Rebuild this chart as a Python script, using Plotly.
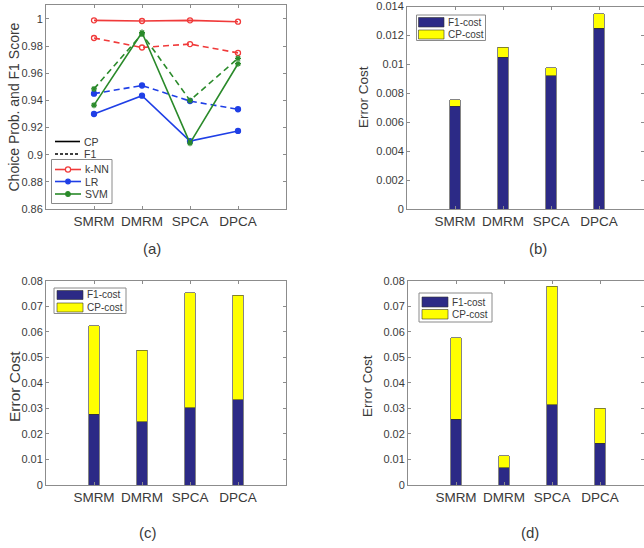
import plotly.graph_objects as go

categories = ["SMRM", "DMRM", "SPCA", "DPCA"]
xpos = [1, 2, 3, 4]

# Panel (a): choice probability (CP) and F1 score
knn_cp = [0.999, 0.9985, 0.999, 0.998]
knn_f1 = [0.986, 0.979, 0.9815, 0.975]
lr_cp = [0.930, 0.9435, 0.910, 0.9175]
lr_f1 = [0.945, 0.951, 0.9395, 0.9335]
svm_cp = [0.9365, 0.990, 0.9085, 0.967]
svm_f1 = [0.9485, 0.989, 0.940, 0.971]

# Panels (b)-(d): stacked error cost
b_f1_cost = [0.0071, 0.0105, 0.0092, 0.0125]
b_cp_cost = [0.00045, 0.0007, 0.00055, 0.0010]
c_f1_cost = [0.0278, 0.0248, 0.0303, 0.0333]
c_cp_cost = [0.0346, 0.0279, 0.0450, 0.0411]
d_f1_cost = [0.0257, 0.0068, 0.0315, 0.0163]
d_cp_cost = [0.0320, 0.0047, 0.0463, 0.0137]

a_ticks = [0.86, 0.88, 0.90, 0.92, 0.94, 0.96, 0.98, 1.0]
a_ticklabels = ["0.86", "0.88", "0.9", "0.92", "0.94", "0.96", "0.98", "1"]
b_ticks = [0, 0.002, 0.004, 0.006, 0.008, 0.010, 0.012, 0.014]
b_ticklabels = ["0", "0.002", "0.004", "0.006", "0.008", "0.01", "0.012", "0.014"]
cd_ticks = [0, 0.01, 0.02, 0.03, 0.04, 0.05, 0.06, 0.07, 0.08]
cd_ticklabels = ["0", "0.01", "0.02", "0.03", "0.04", "0.05", "0.06", "0.07", "0.08"]

W, H = 644, 548
FONT = "Liberation Sans, Arial, sans-serif"
TXT = "#3a3a3a"
AX = "#8c8c8c"
RED = "#f03a3a"
BLUE = "#1f3fe6"
GREEN = "#2a8a2a"
NAVY = "#2c2a86"
YEL = "#ffff00"
EDGE = "#333333"


def px_x(p):
    return p / W


def px_y(p):
    return (H - p) / H


fig = go.Figure()

# ---- panel (a) data ----
series = [
    ("k-NN", knn_cp, knn_f1, RED, "circle-open"),
    ("LR", lr_cp, lr_f1, BLUE, "circle"),
    ("SVM", svm_cp, svm_f1, GREEN, "asterisk-open"),
]
for name, cp, f1, col, sym in series:
    mk = dict(symbol=sym, size=5, color=col, line=dict(color=col, width=1.3))
    fig.add_trace(go.Scatter(x=xpos, y=cp, mode="lines+markers", name=name + " CP",
                             line=dict(color=col, width=1.6), marker=mk,
                             showlegend=False, xaxis="x", yaxis="y"))
    fig.add_trace(go.Scatter(x=xpos, y=f1, mode="lines+markers", name=name + " F1",
                             line=dict(color=col, width=1.6, dash="6px,4px"), marker=mk,
                             showlegend=False, xaxis="x", yaxis="y"))

# ---- bar panels ----
bar_sets = [
    ("x2", "y2", b_f1_cost, b_cp_cost),
    ("x3", "y3", c_f1_cost, c_cp_cost),
    ("x4", "y4", d_f1_cost, d_cp_cost),
]
for xa, ya, f1c, cpc in bar_sets:
    fig.add_trace(go.Bar(x=xpos, y=f1c, name="F1-cost", width=0.21,
                         marker=dict(color=NAVY, line=dict(color=EDGE, width=0.6)),
                         showlegend=False, xaxis=xa, yaxis=ya))
    fig.add_trace(go.Bar(x=xpos, y=cpc, name="CP-cost", width=0.21,
                         marker=dict(color=YEL, line=dict(color=EDGE, width=0.6)),
                         showlegend=False, xaxis=xa, yaxis=ya))


def xaxis_def(dom, rng, anchor):
    return dict(domain=dom, range=rng, anchor=anchor, tickvals=xpos, ticktext=categories,
                showline=True, linecolor=AX, linewidth=1, mirror="ticks",
                ticks="inside", ticklen=3, tickcolor=AX, showgrid=False, zeroline=False,
                tickfont=dict(size=13.5, color=TXT, family=FONT), fixedrange=True)


def yaxis_def(dom, rng, anchor, tv, tt):
    return dict(domain=dom, range=rng, anchor=anchor, tickvals=tv, ticktext=tt,
                showline=True, linecolor=AX, linewidth=1, mirror="ticks",
                ticks="inside", ticklen=3, tickcolor=AX, showgrid=False, zeroline=False,
                tickfont=dict(size=11, color=TXT, family=FONT), fixedrange=True)


top_dom_a = [px_y(209), px_y(5)]
top_dom_b = [px_y(209), px_y(6.5)]
bot_dom = [px_y(485), px_y(280.7)]

fig.update_layout(
    width=W, height=H, margin=dict(l=0, r=0, t=0, b=0, autoexpand=False),
    paper_bgcolor="white", plot_bgcolor="white", barmode="stack", bargap=0,
    font=dict(family=FONT, color=TXT), showlegend=False, hovermode=False,
    xaxis=xaxis_def([px_x(46), px_x(286)], [0, 5], "y"),
    yaxis=yaxis_def(top_dom_a, [0.86, 1.0103], "x", a_ticks, a_ticklabels),
    xaxis2=xaxis_def([px_x(407), 1.0], [0, (644 - 407) / 48], "y2"),
    yaxis2=yaxis_def(top_dom_b, [0, 0.014], "x2", b_ticks, b_ticklabels),
    xaxis3=xaxis_def([px_x(46), px_x(286)], [0, 5], "y3"),
    yaxis3=yaxis_def(bot_dom, [0, 0.08], "x3", cd_ticks, cd_ticklabels),
    xaxis4=xaxis_def([px_x(408), 1.0], [0, (644 - 408) / 48], "y4"),
    yaxis4=yaxis_def(bot_dom, [0, 0.08], "x4", cd_ticks, cd_ticklabels),
)

shapes = []
annotations = []


def add_text(txt, x, y, size, anchor="left", angle=0):
    annotations.append(dict(text=txt, x=px_x(x), y=px_y(y), xref="paper", yref="paper",
                            showarrow=False, textangle=angle,
                            font=dict(size=size, color=TXT, family=FONT),
                            xanchor=anchor, yanchor="middle"))


def add_box(x0, y0, x1, y1):
    shapes.append(dict(type="rect", xref="paper", yref="paper",
                       x0=px_x(x0), x1=px_x(x1), y0=px_y(y1), y1=px_y(y0),
                       line=dict(color="#8a8a8a", width=1), fillcolor="white", layer="above"))


def add_line(x0, x1, y, color, dash="solid"):
    shapes.append(dict(type="line", xref="paper", yref="paper",
                       x0=px_x(x0), x1=px_x(x1), y0=px_y(y), y1=px_y(y),
                       line=dict(color=color, width=1.6, dash=dash), layer="above"))


def add_dot(x, y, r, color, filled):
    shapes.append(dict(type="circle", xref="paper", yref="paper",
                       x0=px_x(x - r), x1=px_x(x + r), y0=px_y(y + r), y1=px_y(y - r),
                       line=dict(color=color, width=1.2),
                       fillcolor=color if filled else "white", layer="above"))


def add_swatch(x0, y0, x1, y1, color):
    shapes.append(dict(type="rect", xref="paper", yref="paper",
                       x0=px_x(x0), x1=px_x(x1), y0=px_y(y1), y1=px_y(y0),
                       line=dict(color=EDGE, width=0.6), fillcolor=color, layer="above"))


# legend of panel (a): line style keys
add_line(55, 80, 141.5, "black")
add_text("CP", 82, 141.5, 10.5)
add_line(55, 80, 154, "black", dash="3px,2px")
add_text("F1", 82, 154, 10.5)
# legend of panel (a): classifier keys
add_box(51.5, 159.5, 112, 203.5)
leg_a = [("k-NN", RED, False, 169.5), ("LR", BLUE, True, 181.5), ("SVM", GREEN, True, 194)]
for name, col, filled, yy in leg_a:
    add_line(55, 81, yy, col)
    add_dot(68, yy, 2.3 if filled else 2.6, col, filled)
    add_text(name, 83, yy, 10.5)

# legends of bar panels
bar_legends = [
    (416.5, 15, 485.5, 40.5, 418.5, 444, 17.5, 27, 30, 39),
    (54, 288, 126, 313.5, 57, 83, 290.5, 299.5, 303, 312),
    (419, 293, 492, 322, 422, 448, 297, 307, 309.5, 319),
]
for bx0, by0, bx1, by1, sx0, sx1, f0, f1_, c0, c1 in bar_legends:
    add_box(bx0, by0, bx1, by1)
    add_swatch(sx0, f0, sx1, f1_, NAVY)
    add_swatch(sx0, c0, sx1, c1, YEL)
    add_text("F1-cost", sx1 + 2, (f0 + f1_) / 2, 10)
    add_text("CP-cost", sx1 + 2, (c0 + c1) / 2, 10)

# axis titles
add_text("Choice Prob. and F1 Score", 13.5, 107, 14, anchor="center", angle=-90)
add_text("Error Cost", 364, 97, 13.5, anchor="center", angle=-90)
add_text("Error Cost", 14, 387, 15.5, anchor="center", angle=-90)
add_text("Error Cost", 367, 386, 13.5, anchor="center", angle=-90)

# panel captions
for txt, cx, cy in [("(a)", 152, 248), ("(b)", 538, 248), ("(c)", 148, 532), ("(d)", 530, 532)]:
    add_text(txt, cx, cy, 15, anchor="center")

fig.update_layout(shapes=shapes, annotations=annotations)

fig.write_html("out.html", config={"displayModeBar": False, "staticPlot": True},
               post_script="document.body.style.margin='0px';document.body.style.overflow='hidden';")
